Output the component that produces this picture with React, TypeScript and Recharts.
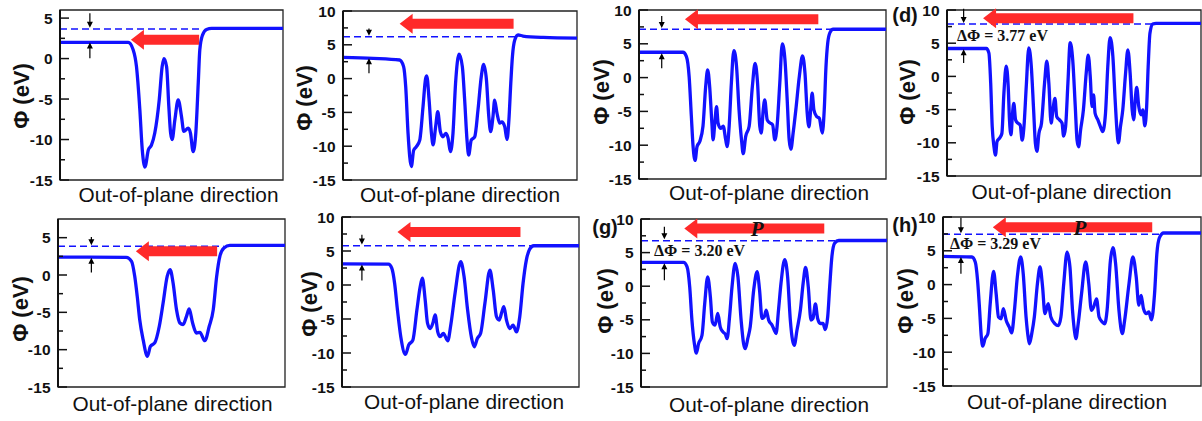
import React from 'react';
import { LineChart, Line, XAxis, YAxis, ReferenceLine, ReferenceArea, ReferenceDot } from 'recharts';

const BLUE = '#1212ff';
const RED = '#ff2a2a';
const SANS = 'Arial, "Liberation Sans", Helvetica, sans-serif';
const SERIF = '"Times New Roman", "Liberation Serif", serif';

const X_TITLE = 'Out-of-plane direction';
const Y_TITLE = 'Φ (eV)';

// tick values
const ticksLow = [-15, -12.5, -10, -7.5, -5, -2.5, 0, 2.5, 5];
const ticksHigh = [-15, -12.5, -10, -7.5, -5, -2.5, 0, 2.5, 5, 7.5, 10];

// potential curves: [position (0-100), Φ (eV)]
const curveA: [number, number][] = [
  [0, 2.0], [30.6, 2.0], [32.8, 1.1], [34.3, -1.0], [35.8, -6.3], [36.9, -11.3], [38.1, -13.4], [39.6, -11.3],
  [41.0, -10.7], [42.5, -9.2], [44.5, -5.1], [45.8, -1.0], [46.6, 0.0], [47.8, -1.0], [48.8, -5.9], [49.6, -9.2],
  [50.3, -10.0], [51.5, -7.6], [53.0, -5.1], [54.5, -7.2], [55.5, -9.0], [57.5, -8.6], [58.5, -9.2], [59.7, -11.5],
  [60.9, -9.2], [62.0, -3.0], [62.7, 1.1], [63.9, 2.9], [65.7, 3.6], [68, 3.72], [100, 3.72],
];
const curveB: [number, number][] = [
  [0, 3.15], [12.8, 3.0], [24.2, 2.75], [25.9, 1.77], [26.8, -1.2], [27.8, -8.1], [29.2, -13.0], [30.2, -10.6],
  [31.3, -10.1], [32.8, -9.1], [34.2, -4.15], [35.3, 0.0], [35.8, 0.4], [36.8, -3.2], [37.8, -8.1], [38.5, -9.8],
  [39.6, -7.1], [40.5, -4.9], [41.6, -7.85], [42.7, -8.6], [43.9, -8.1], [44.9, -8.8], [45.9, -10.8], [47.0, -8.1],
  [48.1, -0.7], [49.6, 3.6], [51.0, 1.77], [52.0, -3.2], [53.0, -9.1], [53.7, -11.3], [54.8, -9.1], [56.3, -8.6],
  [57.7, -4.6], [59.1, 0.3], [60.1, 2.1], [61.3, -0.2], [62.3, -5.6], [63.1, -7.85], [64.1, -5.6], [64.8, -3.2],
  [65.8, -5.1], [67.0, -6.6], [67.9, -6.4], [69.1, -7.1], [70.1, -9.0], [70.9, -6.1], [71.7, -0.7], [72.4, 3.25],
  [73.4, 5.7], [74.8, 6.45], [76.9, 6.3], [85.5, 6.1], [100, 6.0],
];
const curveC: [number, number][] = [
  [0, 3.75], [17.8, 3.75], [19.2, 3.1], [20.3, 0.15], [21.2, -5.75], [21.9, -10.2], [22.7, -12.25], [23.5, -10.2],
  [24.6, -9.45], [25.9, -7.2], [27.0, -1.3], [27.8, 1.15], [28.6, -1.3], [29.5, -6.7], [30.0, -9.2], [30.7, -6.7],
  [31.4, -4.3], [32.0, -6.7], [33.0, -7.5], [34.1, -7.2], [35.1, -9.2], [35.7, -10.2], [36.5, -7.2], [37.4, -0.8],
  [38.4, 4.0], [39.5, 1.6], [40.5, -4.75], [41.5, -9.2], [42.2, -11.25], [43.2, -8.7], [44.6, -7.2], [45.9, -1.3],
  [47.0, 2.1], [48.0, -0.8], [48.9, -7.2], [49.5, -8.2], [50.3, -4.75], [50.9, -3.3], [51.9, -6.25], [53.0, -6.7],
  [54.1, -7.0], [55.0, -9.2], [55.9, -7.2], [57.0, -0.8], [58.0, 5.0], [59.1, 2.6], [60.0, -3.3], [60.8, -9.2],
  [61.5, -10.6], [62.4, -8.2], [63.5, -4.75], [64.9, 0.15], [66.2, 3.2], [67.2, 0.65], [68.1, -5.25], [68.8, -7.3],
  [69.5, -4.75], [70.1, -2.3], [70.8, -4.75], [71.9, -5.75], [73.0, -6.0], [74.2, -8.2], [75.0, -4.75], [75.7, 1.6],
  [76.4, 5.1], [77.3, 6.65], [78.6, 7.15], [100, 7.15],
];
const curveD: [number, number][] = [
  [0, 4.2], [15.5, 4.2], [16.5, 3.5], [17.2, -1.0], [17.8, -7.55], [18.5, -10.6], [19.1, -11.85], [19.7, -9.8],
  [20.7, -9.3], [21.6, -8.6], [22.4, -2.55], [23.3, 1.55], [24.1, -1.55], [24.6, -6.55], [25.2, -8.8], [25.8, -5.55],
  [26.3, -4.05], [27.0, -6.55], [27.9, -7.05], [28.8, -7.3], [29.6, -9.6], [30.3, -7.55], [31.2, -1.55], [32.2, 4.3],
  [33.2, 1.45], [34.1, -5.05], [34.8, -10.1], [35.4, -11.3], [36.2, -8.55], [37.2, -7.05], [38.4, -1.05], [39.3, 2.3],
  [40.1, -1.05], [41.0, -7.05], [41.7, -5.05], [42.5, -3.3], [43.2, -6.05], [44.3, -6.55], [45.3, -7.05], [45.9, -9.0],
  [46.7, -7.55], [47.6, -1.05], [48.5, 5.1], [49.5, 2.45], [50.5, -4.55], [51.2, -9.6], [51.8, -10.6], [52.6, -8.05],
  [53.7, -5.05], [54.8, 0.45], [55.6, 3.2], [56.4, -0.05], [57.1, -4.55], [57.7, -2.8], [58.3, -5.55], [59.4, -6.55],
  [60.4, -7.55], [61.3, -8.3], [62.4, -5.55], [63.3, 1.45], [64.2, 5.85], [65.3, 3.0], [66.2, -3.55], [67.0, -8.55],
  [67.5, -10.0], [68.3, -7.55], [69.2, -5.05], [70.3, 0.45], [71.2, 4.0], [72.1, 0.45], [72.9, -5.05], [73.5, -6.55],
  [74.2, -3.05], [74.7, -1.65], [75.5, -4.55], [76.4, -5.8], [77.1, -5.05], [77.9, -7.45], [78.6, -4.55], [79.2, 1.45],
  [79.9, 6.5], [81.0, 7.9], [82.3, 8.0], [100, 8.0],
];
const curveE: [number, number][] = [
  [0, 2.4], [30.1, 2.37], [32.4, 1.83], [33.8, -0.18], [34.9, -2.86], [36.0, -6.0], [37.5, -8.66], [39.4, -10.9],
  [40.7, -9.55], [42.6, -9.1], [44.6, -6.9], [46.3, -3.75], [48.1, -0.18], [49.4, 0.71], [50.7, -1.07], [52.2, -4.64],
  [53.7, -6.43], [55.1, -6.65], [56.6, -5.54], [57.8, -4.55], [59.3, -6.43], [61.0, -7.77], [62.5, -7.68], [64.7, -8.8],
  [66.6, -6.9], [68.4, -4.64], [69.9, -0.18], [71.3, 2.5], [73.1, 3.62], [75.7, 3.97], [100, 3.97],
];
const curveF: [number, number][] = [
  [0, 3.1], [19.6, 3.06], [21.0, 2.47], [22.2, 0.26], [23.4, -3.68], [24.8, -7.6], [26.8, -10.2], [28.1, -8.85],
  [29.9, -8.1], [31.6, -3.68], [33.0, -0.24], [33.9, 1.0], [35.1, -2.2], [36.1, -5.65], [37.2, -6.4], [38.3, -5.65],
  [39.3, -4.4], [40.4, -6.9], [41.4, -7.6], [42.8, -7.1], [44.6, -8.2], [46.0, -5.65], [47.7, -1.2], [50.1, 3.45],
  [51.5, 1.24], [53.0, -3.68], [54.7, -7.86], [55.8, -9.1], [57.1, -7.86], [58.5, -7.1], [60.3, -2.7], [62.4, 2.2],
  [63.8, -0.73], [65.2, -4.67], [66.3, -5.16], [67.5, -3.9], [68.3, -3.2], [69.4, -5.16], [70.8, -6.4], [72.2, -5.9],
  [73.6, -6.9], [75.0, -4.67], [76.4, 0.26], [77.8, 3.7], [79.2, 5.28], [80.9, 5.77], [100, 5.77],
];
const curveG: [number, number][] = [
  [0, 3.55], [17.3, 3.55], [18.7, 2.9], [19.8, -0.1], [20.7, -5.05], [21.7, -8.55], [22.5, -9.95], [23.4, -8.55],
  [24.8, -7.3], [25.9, -2.6], [27.1, 1.4], [28.2, -1.6], [29.0, -5.3], [30.1, -5.8], [31.2, -4.05], [32.2, -6.05],
  [33.3, -6.8], [34.3, -7.15], [35.0, -7.8], [36.0, -4.55], [37.0, -0.1], [38.3, 3.4], [39.4, 1.4], [40.7, -5.05],
  [41.7, -8.55], [42.4, -9.3], [43.4, -7.8], [44.4, -6.05], [45.8, -0.6], [47.2, 2.15], [48.2, -0.6], [49.2, -4.8],
  [50.1, -4.55], [50.9, -3.55], [51.9, -5.05], [53.3, -5.8], [54.2, -6.55], [54.9, -7.05], [55.9, -3.55], [56.9, 0.4],
  [58.4, 3.95], [59.6, 1.4], [60.7, -5.05], [61.6, -8.05], [62.3, -8.8], [63.4, -6.55], [64.8, -3.55], [65.9, 0.4],
  [66.9, 2.8], [68.0, -0.1], [69.1, -5.05], [69.9, -4.8], [70.9, -2.65], [71.8, -4.8], [72.9, -5.55], [74.0, -5.55],
  [74.9, -6.45], [75.9, -4.55], [76.7, -0.1], [77.6, 4.4], [78.7, 6.4], [80.4, 6.8], [100, 6.8],
];
const curveH: [number, number][] = [
  [0, 4.18], [11.2, 4.08], [12.5, 3.35], [13.4, 0.63], [14.2, -3.8], [14.8, -7.5], [15.4, -9.1], [16.3, -8.0],
  [17.4, -7.25], [18.3, -2.8], [19.6, 1.95], [20.6, -1.35], [21.5, -4.8], [22.5, -5.05], [23.4, -3.55], [24.5, -5.3],
  [25.7, -6.3], [26.6, -7.15], [27.7, -3.8], [28.8, 1.1], [30.1, 4.1], [31.1, 1.6], [32.2, -4.8], [33.1, -8.0],
  [33.5, -8.75], [34.4, -7.25], [35.4, -4.8], [36.6, 0.14], [37.6, 2.6], [38.6, -0.35], [39.5, -4.3], [40.8, -2.8],
  [41.8, -4.8], [43.4, -5.8], [44.7, -6.05], [45.7, -4.8], [46.8, 0.14], [48.1, 4.8], [49.2, 2.6], [50.2, -3.8],
  [51.1, -7.25], [51.5, -8.0], [52.4, -5.8], [53.7, -1.35], [55.3, 3.35], [56.5, 0.14], [57.5, -3.8], [58.4, -3.3],
  [59.5, -2.1], [60.5, -4.8], [61.8, -5.55], [62.7, -5.8], [63.6, -3.8], [64.9, 3.6], [65.9, 5.45], [66.9, 3.1],
  [68.2, -3.8], [69.1, -6.75], [69.5, -7.25], [70.4, -5.3], [72.1, 0.14], [73.6, 4.1], [74.9, 1.1], [75.9, -3.05],
  [76.8, -1.6], [77.7, -3.55], [78.8, -4.3], [79.8, -4.05], [80.8, -5.2], [82.0, -1.35], [82.9, 4.6], [83.9, 6.95],
  [85.5, 7.63], [100, 7.63],
];

// vacuum level (dashed): [level, end position]
const vacA = [3.65, 62.5];
const vacB = [6.2, 74.5];
const vacC = [7.15, 78];
const vacD = [7.9, 81];
const vacE = [3.84, 73];
const vacF = [5.77, 80.5];
const vacG = [6.77, 80];
const vacH = [7.44, 84];

// small black arrows: [x, top start, top tip, bottom start, bottom tip]
const gapA = [13.4, 5.6, 3.8, 0.05, 2.0];
const gapB = [11.1, 7.4, 6.35, 0.8, 3.0];
const gapC = [9.2, 9.1, 7.35, 1.4, 3.6];
const gapD = [6.55, 10.2, 8.05, 2.0, 4.1];
const gapE = [14.7, 5.1, 4.0, 0.35, 2.3];
const gapF = [8.4, 7.4, 5.95, 0.65, 3.0];
const gapG = [9.5, 8.85, 7.0, 0.9, 3.4];
const gapH = [6.95, 9.9, 7.6, 1.6, 4.1];

// red polarization arrows: [tail x, tip x, y]
const redA = [62.4, 31.8, 2.32];
const redB = [72.9, 24.2, 8.1];
const redC = [72.6, 18.6, 8.65];
const redD = [73.4, 14.2, 8.75];
const redE = [70.1, 34.3, 3.17];
const redF = [75.3, 23.4, 7.8];
const redG = [74.5, 17.6, 8.6];
const redH = [81.1, 19.3, 8.5];

// texts
const deltaD = 'ΔΦ = 3.77 eV';
const deltaG = 'ΔΦ = 3.20 eV';
const deltaH = 'ΔΦ = 3.29 eV';

const arrowShape = (bar: number, headHalf: number, headLen: number, color: string) => (p: any) => {
  const { x1, y1, x2, y2 } = p;
  const dx = x2 - x1;
  const dy = y2 - y1;
  const len = Math.hypot(dx, dy) || 1;
  const ux = dx / len;
  const uy = dy / len;
  const nx = -uy;
  const ny = ux;
  const bx = x2 - ux * headLen;
  const by = y2 - uy * headLen;
  const h = bar / 2;
  const pts = [
    [x1 + nx * h, y1 + ny * h],
    [bx + nx * h, by + ny * h],
    [bx + nx * headHalf, by + ny * headHalf],
    [x2, y2],
    [bx - nx * headHalf, by - ny * headHalf],
    [bx - nx * h, by - ny * h],
    [x1 - nx * h, y1 - ny * h],
  ];
  return <polygon points={pts.map((q) => q.join(',')).join(' ')} fill={color} />;
};

const redShape = arrowShape(10, 10, 13, RED);
const blackShape = arrowShape(1.2, 3, 6, '#000');

const YTick = (props: any) => {
  const { x, y, payload } = props;
  const v = payload.value;
  const major = Math.abs(v % 5) < 1e-6;
  return (
    <g>
      <line x1={x + 7} x2={x + (major ? 16 : 12)} y1={y} y2={y} stroke="#111" strokeWidth={1.5} />
      {major && (
        <text
          x={x}
          y={y}
          textAnchor="end"
          dominantBaseline="central"
          fontFamily={SANS}
          fontWeight="bold"
          fontSize={15.5}
          letterSpacing={0.3}
          fill="#111"
        >
          {v}
        </text>
      )}
    </g>
  );
};

type Note = { x: number; y: number; text: string; size: number; italic?: boolean; anchor?: string };

type PanelProps = {
  L: number; T: number; W: number; H: number; lo: number; hi: number; ticks: number[];
  curve: [number, number][]; vac: number[]; gap: number[]; red: number[]; notes?: Note[];
};

function Panel({ L, T, W, H, lo, hi, ticks, curve, vac, gap, red, notes = [] }: PanelProps) {
  const data = curve.map(([x, y]) => ({ x, y }));
  const dash = [{ x: 0, y: vac[0] }, { x: vac[1], y: vac[0] }];
  return (
    <div style={{ position: 'absolute', left: L - 50, top: T - 12 }}>
      <LineChart width={W + 56} height={H + 24} margin={{ top: 12, right: 6, bottom: 12, left: 0 }}>
        <XAxis type="number" dataKey="x" domain={[0, 100]} hide allowDataOverflow />
        <YAxis
          type="number"
          domain={[lo, hi]}
          ticks={ticks}
          interval={0}
          width={50}
          tickSize={0}
          tickMargin={7}
          tickLine={false}
          axisLine={{ stroke: '#111', strokeWidth: 2 }}
          tick={(p: any) => <YTick {...p} />}
          allowDataOverflow
        />
        <ReferenceArea x1={0} x2={100} y1={lo} y2={hi} fill="none" fillOpacity={0} stroke="#222" strokeWidth={1.3} ifOverflow="visible" />
        <Line data={dash} dataKey="y" type="linear" stroke={BLUE} strokeWidth={1.5} strokeDasharray="7 4" dot={false} isAnimationActive={false} />
        <Line data={data} dataKey="y" type="monotone" stroke={BLUE} strokeWidth={3.3} dot={false} isAnimationActive={false} />
        <ReferenceLine segment={[{ x: gap[0], y: gap[1] }, { x: gap[0], y: gap[2] }]} ifOverflow="visible" shape={blackShape} />
        <ReferenceLine segment={[{ x: gap[0], y: gap[3] }, { x: gap[0], y: gap[4] }]} ifOverflow="visible" shape={blackShape} />
        <ReferenceLine segment={[{ x: red[0], y: red[2] }, { x: red[1], y: red[2] }]} ifOverflow="visible" shape={redShape} />
        {notes.map((n, i) => (
          <ReferenceDot
            key={i}
            x={n.x}
            y={n.y}
            r={0}
            ifOverflow="visible"
            shape={(p: any) => (
              <text
                x={p.cx}
                y={p.cy}
                textAnchor={n.anchor || 'start'}
                dominantBaseline="central"
                fontFamily={SERIF}
                fontWeight="bold"
                fontStyle={n.italic ? 'italic' : 'normal'}
                fontSize={n.size}
                fill="#111"
              >
                {n.text}
              </text>
            )}
          />
        ))}
      </LineChart>
    </div>
  );
}

const Title = ({ cx, cy, text, rotate = false, size, weight = 'normal', family = SANS }: any) => (
  <div
    style={{
      position: 'absolute',
      left: cx,
      top: cy,
      transform: `translate(-50%, -50%)${rotate ? ' rotate(-90deg)' : ''}`,
      fontFamily: family,
      fontSize: size,
      fontWeight: weight,
      lineHeight: 1,
      whiteSpace: 'nowrap',
      color: '#111',
    }}
  >
    {text}
  </div>
);

const xTitles = [[178.5, 195], [460, 195], [769, 193], [1071.5, 192], [172.5, 404], [464, 402], [769, 405], [1067, 402]];
const yTitles = [[21.5, 96], [305, 98], [602, 92], [908, 92], [21, 309], [310, 304], [606, 301], [906, 301]];
const panelTags = [['(d)', 905, 15], ['(g)', 605, 226.5], ['(h)', 905, 225]];

export default function App() {
  return (
    <div style={{ position: 'absolute', left: 0, top: 0, width: 1202, height: 421, background: '#fff', overflow: 'hidden' }}>
      <Panel L={60} T={10} W={223} H={170} lo={-15} hi={6} ticks={ticksLow} curve={curveA} vac={vacA} gap={gapA} red={redA} />
      <Panel L={343} T={11} W={234} H={169} lo={-15} hi={10} ticks={ticksHigh} curve={curveB} vac={vacB} gap={gapB} red={redB} />
      <Panel L={639} T={10} W={247} H={169} lo={-15} hi={10} ticks={ticksHigh} curve={curveC} vac={vacC} gap={gapC} red={redC} />
      <Panel
        L={947} T={10} W={254} H={166} lo={-15} hi={10} ticks={ticksHigh} curve={curveD} vac={vacD} gap={gapD} red={redD}
        notes={[{ x: 3.9, y: 6.1, text: deltaD, size: 16 }]}
      />
      <Panel L={58} T={219} W={227} H={168} lo={-15} hi={7.5} ticks={ticksLow} curve={curveE} vac={vacE} gap={gapE} red={redE} />
      <Panel L={342} T={217} W={237} H={170} lo={-15} hi={10} ticks={ticksHigh} curve={curveF} vac={vacF} gap={gapF} red={redF} />
      <Panel
        L={641} T={219} W={246} H={168} lo={-15} hi={10} ticks={ticksHigh} curve={curveG} vac={vacG} gap={gapG} red={redG}
        notes={[{ x: 5.3, y: 5.25, text: deltaG, size: 16 }, { x: 47.2, y: 8.5, text: 'P', size: 21, italic: true, anchor: 'middle' }]}
      />
      <Panel
        L={943} T={217} W={258} H={169} lo={-15} hi={10} ticks={ticksHigh} curve={curveH} vac={vacH} gap={gapH} red={redH}
        notes={[{ x: 2.7, y: 6.15, text: deltaH, size: 16 }, { x: 53.1, y: 8.4, text: 'P', size: 21, italic: true, anchor: 'middle' }]}
      />
      {xTitles.map(([cx, cy], i) => (
        <Title key={'x' + i} cx={cx} cy={cy} text={X_TITLE} size={20.8} />
      ))}
      {yTitles.map(([cx, cy], i) => (
        <Title key={'y' + i} cx={cx} cy={cy} text={Y_TITLE} rotate size={22} weight="bold" />
      ))}
      {panelTags.map(([t, cx, cy], i) => (
        <Title key={'t' + i} cx={cx} cy={cy} text={t} size={20} weight="bold" />
      ))}
    </div>
  );
}
